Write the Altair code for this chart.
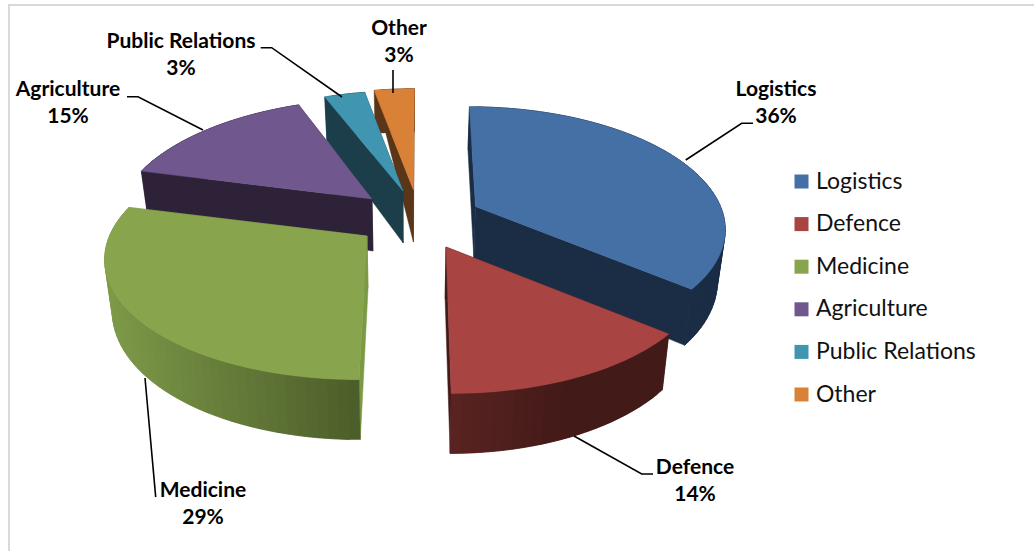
import math
import altair as alt
import pandas as pd

# Chart values
categories = ["Logistics", "Defence", "Medicine", "Agriculture", "Public Relations", "Other"]
shares = [36, 14, 29, 15, 3, 3]
top_colors = ["#4570A5", "#A84442", "#88A44D", "#70588F", "#4096B0", "#DA8138"]

# Drawing set-up for the exploded, tilted pie
APEX = {
    "Logistics": (475.5, 206.5), "Defence": (446, 247), "Medicine": (367, 236),
    "Agriculture": (372, 199), "Public Relations": (403, 191), "Other": (413.5, 190),
}
PAINT_ORDER = ["Other", "Public Relations", "Agriculture", "Logistics", "Medicine", "Defence"]
WALL = {
    "Logistics": ("#1B2D45", "#1B2D45"), "Defence": ("#5A2422", "#421A18"),
    "Medicine": ("#7E9A49", "#4C5E2A"), "Agriculture": ("#2E2238", "#2E2238"),
    "Public Relations": ("#1B3E4A", "#1B3E4A"), "Other": ("#5A3518", "#5A3518"),
}
RADIAL_WALL = {"Logistics": "#1B2D45", "Defence": "#421A18", "Medicine": "#7A9A45",
               "Agriculture": "#2E2238", "Public Relations": "#1B3E4A", "Other": "#5A3518"}
# how much of the wall height survives at the rim of each inner face
RIM_WALL = {"Other": 0.0}
# per-slice radius trim (horizontal, vertical)
TRIM = {"Logistics": (0.98, 0.985), "Defence": (1.02, 1.035), "Medicine": (1.03, 1.015),
        "Agriculture": (1.0, 0.99), "Public Relations": (1.01, 0.99), "Other": (1.0, 1.0)}
# horizontal convergence point used for each slice's depth lines
VANISH_X = {"Logistics": 433.0, "Medicine": 407.0}
CX, DEFAULT_VANISH, K, RX, RY = 410.0, 420.0, 0.166, 250.0, 118.0
WALL_H, APEX_WALL_H, TAPER = 50.0, 52.0, 0.975


def hex_mix(a, b, u):
    ca = [int(a[i:i + 2], 16) for i in (1, 3, 5)]
    cb = [int(b[i:i + 2], 16) for i in (1, 3, 5)]
    return "#" + "".join(f"{round(p + (q - p) * u):02X}" for p, q in zip(ca, cb))


def rim(cat, deg):
    ax, ay = APEX[cat]
    tx, ty = TRIM[cat]
    a = math.radians(deg)
    sx, cy = math.sin(a), math.cos(a)
    f = 1 / (1 + K * cy)
    vx = VANISH_X.get(cat, DEFAULT_VANISH)
    return ax + (ax - vx) * (f - 1) + RX * tx * sx * f, ay - RY * ty * cy * f, f


def lower(x, y, f, scale=1.0):
    return CX + (x - CX) * TAPER, y + WALL_H * f * scale


rows = []


def add_face(name, pts, fill):
    # repeat the first point so the outline closes
    for i, (x, y) in enumerate(list(pts) + [pts[0]]):
        rows.append({"face": name, "i": i, "x": x, "y": y, "fill": fill})


spans = {}
start = 0.0
for cat, share in zip(categories, shares):
    spans[cat] = (start, start + share * 3.6)
    start += share * 3.6

for cat in PAINT_ORDER:
    a0, a1 = spans[cat]
    ax, ay = APEX[cat]
    steps = max(6, int((a1 - a0) / 2))
    angles = [a0 + (a1 - a0) * j / steps for j in range(steps + 1)]
    arc = [rim(cat, d) for d in angles]
    apex_low = (CX + (ax - CX) * TAPER, ay + APEX_WALL_H)
    # the two radial walls
    for tag, (x, y, f) in (("s", arc[0]), ("e", arc[-1])):
        low = lower(x, y, f, RIM_WALL.get(cat, 1.0))
        add_face(f"{cat}-r{tag}", [(ax, ay), (x, y), low, apex_low], RADIAL_WALL[cat])
    # outer wall in overlapping strips, so the shading runs across it without seams
    xs = [p[0] for p in arc]
    lo, hi = min(xs), max(xs)
    c0, c1 = WALL[cat]
    for j in range(steps):
        p, q = arc[j], arc[min(j + 2, steps)]
        u = (arc[j][0] - lo) / max(hi - lo, 1)
        color = hex_mix(c0, c1, u if cat == "Medicine" else min(u * 1.8, 1))
        band = [p[:2]] + [a[:2] for a in arc[j + 1:j + 3]]
        band += [lower(*a) for a in reversed(arc[j:j + 3])]
        add_face(f"{cat}-w{j:02d}", band, color)
    # top surface
    add_face(f"{cat}-top", [(ax, ay)] + [p[:2] for p in arc],
             top_colors[categories.index(cat)])

faces = pd.DataFrame(rows)

x_scale = alt.Scale(domain=[0, 1034], range=[0, 1034], nice=False, zero=False)
y_scale = alt.Scale(domain=[0, 551], range=[0, 551], nice=False, zero=False)
X = alt.X("x:Q", scale=x_scale, axis=None)
Y = alt.Y("y:Q", scale=y_scale, axis=None)

# Leader lines from each slice to its label
leader_paths = {
    "Logistics": [(685.7, 160), (741.7, 123.3), (753, 123.3)],
    "Defence": [(574, 436), (641.7, 474), (653, 474)],
    "Medicine": [(145, 378), (155.7, 497)],
    "Agriculture": [(127, 96.7), (138, 96.7), (203, 130)],
    "Public Relations": [(260.7, 47.7), (271.7, 47.7), (342, 97)],
    "Other": [(393, 70), (393, 93)],
}
leaders = pd.DataFrame([
    {"slice": c, "i": i, "x": p[0], "y": p[1]}
    for c, pts in leader_paths.items() for i, p in enumerate(pts)
])

label_spots = {
    "Logistics": (776, 89.5), "Defence": (695, 467.5), "Medicine": (203, 490.5),
    "Agriculture": (68, 89.5), "Public Relations": (181, 41.5), "Other": (399, 28.5),
}
labels = pd.DataFrame(
    [{"t": c, "x": label_spots[c][0], "y": label_spots[c][1]} for c in categories]
    + [{"t": f"{s}%", "x": label_spots[c][0], "y": label_spots[c][1] + 27.5}
       for c, s in zip(categories, shares)]
)

frame = pd.DataFrame([
    {"side": "a", "i": 0, "x": 9, "y": 551}, {"side": "a", "i": 1, "x": 9, "y": 5},
    {"side": "a", "i": 2, "x": 1034, "y": 5},
])

legend_source = alt.Chart(pd.DataFrame({"category": categories})).mark_square(
    size=1, opacity=1
).encode(
    x=alt.value(400), y=alt.value(200),
    color=alt.Color(
        "category:N",
        scale=alt.Scale(domain=categories, range=top_colors),
        legend=alt.Legend(
            title=None, orient="none", legendX=790, legendY=170, symbolType="square",
            symbolSize=196, symbolStrokeWidth=0, symbolOpacity=1, labelFont="Lato",
            labelFontSize=23, labelColor="#111111", rowPadding=18.6, labelOffset=3,
            labelLimit=250,
        ),
    ),
)

border = alt.Chart(frame).mark_line(color="#D9D9D9", strokeWidth=2).encode(
    x=X, y=Y, order="i:Q"
)

pie = alt.Chart(faces).mark_line(strokeWidth=0.5, interpolate="linear").encode(
    x=X, y=Y,
    detail="face:N",
    order="i:Q",
    fill=alt.Fill("fill:N", scale=None),
    stroke=alt.Stroke("fill:N", scale=None),
)

leader_lines = alt.Chart(leaders).mark_line(color="black", strokeWidth=1.6).encode(
    x=X, y=Y, detail="slice:N", order="i:Q"
)

label_text = alt.Chart(labels).mark_text(
    font="Lato", fontWeight="bold", fontSize=21, color="black", baseline="middle"
).encode(x=X, y=Y, text="t:N")

chart = (
    alt.layer(border, legend_source, pie, leader_lines, label_text)
    .properties(width=1034, height=551, padding=0, background="white",
                autosize=alt.AutoSizeParams(type="none"))
    .configure_view(stroke=None)
)

chart.save("out.html", embed_options={"renderer": "svg", "actions": False})
